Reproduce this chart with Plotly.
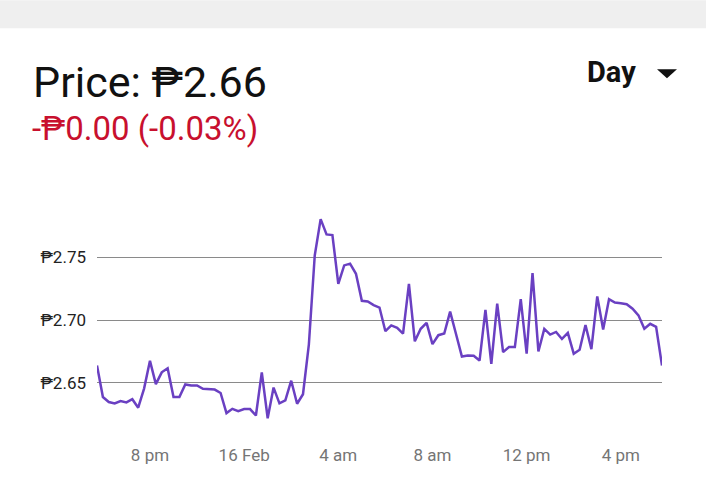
import pandas as pd
import plotly.graph_objects as go

# 15-minute price samples, 15 Feb 17:45 -> 16 Feb 17:45
times = pd.date_range("2021-02-15 17:45", "2021-02-16 17:45", freq="15min")
prices = [
    2.6636, 2.6385, 2.6345, 2.6334, 2.6353, 2.6342, 2.6367, 2.6299, 2.6452, 2.6674,
    2.6488, 2.6582, 2.6614, 2.6385, 2.6385, 2.6485, 2.6477, 2.6477, 2.6450, 2.6447,
    2.6444, 2.6417, 2.6256, 2.6290, 2.6272, 2.6288, 2.6288, 2.6237, 2.6582, 2.6215,
    2.6460, 2.6334, 2.6358, 2.6515, 2.6331, 2.6407, 2.6806, 2.7518, 2.7807, 2.7685,
    2.7680, 2.7289, 2.7437, 2.7451, 2.7370, 2.7154, 2.7148, 2.7119, 2.7100, 2.6911,
    2.6957, 2.6938, 2.6892, 2.7289, 2.6830, 2.6930, 2.6978, 2.6808, 2.6879, 2.6892,
    2.7067, 2.6889, 2.6709, 2.6717, 2.6714, 2.6676, 2.7081, 2.6650, 2.7132, 2.6744,
    2.6784, 2.6784, 2.7167, 2.6731, 2.7375, 2.6749, 2.6930, 2.6884, 2.6905, 2.6849,
    2.6897, 2.6731, 2.6763, 2.6960, 2.6768, 2.7189, 2.6925, 2.7167, 2.7140, 2.7135,
    2.7127, 2.7091, 2.7038, 2.6930, 2.6970, 2.6946, 2.6636,
]

y_ticks = [2.65, 2.70, 2.75]
y_labels = ["₱2.65", "₱2.70", "₱2.75"]
x_ticks = ["2021-02-15 20:00", "2021-02-16 00:00", "2021-02-16 04:00",
           "2021-02-16 08:00", "2021-02-16 12:00", "2021-02-16 16:00"]
x_labels = ["8 pm", "16 Feb", "4 am", "8 am", "12 pm", "4 pm"]

fig = go.Figure()
fig.add_trace(go.Scatter(x=times, y=prices, mode="lines",
                         line=dict(color="#6a40c2", width=2.5),
                         hoverinfo="skip"))

fig.update_layout(
    width=706, height=477,
    margin=dict(l=97, r=44, t=200, b=39),
    paper_bgcolor="white", plot_bgcolor="white",
    showlegend=False,
    font=dict(family="Roboto, DejaVu Sans", color="#222222"),
)
fig.update_xaxes(
    range=[times[0], times[-1]],
    tickvals=x_ticks, ticktext=x_labels,
    showgrid=False, zeroline=False, showline=False,
    ticks="", ticklabelstandoff=8,
    tickfont=dict(size=17, color="#757575"),
)
fig.update_yaxes(
    range=[2.6081, 2.7960],
    tickvals=y_ticks, ticktext=y_labels,
    showgrid=True, gridcolor="#8a8a8a", gridwidth=1,
    zeroline=False, showline=False,
    ticks="", ticklabelstandoff=10,
    tickfont=dict(size=17, color="#222222"),
)

# header: grey strip, price, change, range selector
fig.add_shape(type="rect", xref="paper", yref="paper",
              x0=-0.18, x1=1.09, y0=1.7311, y1=1.85,
              fillcolor="#efefef", line_width=0, layer="below")
fig.add_annotation(text="Price: ₱2.66", xref="paper", yref="paper",
                   x=-0.115, y=1.504, xanchor="left", yanchor="middle",
                   showarrow=False, borderpad=0,
                   font=dict(size=43, color="#111111"))
fig.add_annotation(text="-₱0.00 (-0.03%)", xref="paper", yref="paper",
                   x=-0.117, y=1.3025, xanchor="left", yanchor="middle",
                   showarrow=False, borderpad=0,
                   font=dict(size=33, color="#c8102e"))
fig.add_annotation(text="<b>Day</b>", xref="paper", yref="paper",
                   x=0.866, y=1.546, xanchor="left", yanchor="middle",
                   showarrow=False, borderpad=0,
                   font=dict(size=29, color="#111111"))
fig.add_shape(type="path", xref="paper", yref="paper",
              path="M 0.9912 1.5559 L 1.0265 1.5559 L 1.0088 1.5181 Z",
              fillcolor="#111111", line_width=0)

fig.write_html("out.html", config={"displayModeBar": False},
               post_script="document.body.style.margin='0';")
